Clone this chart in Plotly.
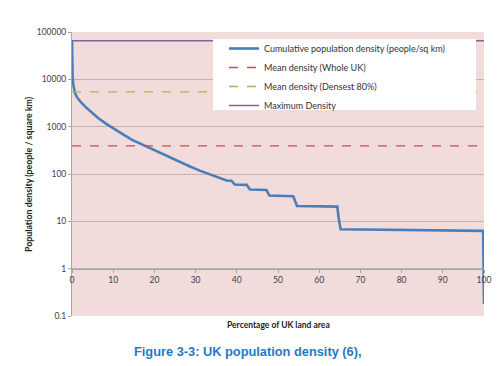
import plotly.graph_objects as go

# ---- data ----
land_pct = [0, 0.05, 0.15, 0.3, 0.5, 0.73, 1.2, 2, 3.2, 4.7, 6.4, 8.4, 10.5, 12.5, 14.6,
            17.8, 20, 22.7, 25.5, 28.5, 31, 33.4, 35.9, 37.5, 38.7, 39.5, 42.4, 43.2,
            47.2, 47.9, 53.7, 54.6, 64.4, 64.7, 65.2, 99.8, 100]
cum_density = [65000, 25000, 11000, 7800, 6200, 5100, 4200, 3400, 2650, 2000, 1510, 1130,
               855, 680, 527, 390, 320, 250, 195, 146, 118, 98, 83, 73, 72, 60, 59, 47,
               46, 35, 34, 21, 20.5, 12, 6.8, 6.3, 0.18]
x_range = [0, 100]
mean_whole_uk = 392
mean_densest_80 = 5450
max_density = 65000
y_ticks = [0.1, 1, 10, 100, 1000, 10000, 100000]
y_tick_labels = ["0.1", "1", "10", "100", "1000", "10000", "100000"]
x_ticks = [0, 10, 20, 30, 40, 50, 60, 70, 80, 90, 100]

FONT = "Lato"
TXT = "#404040"

fig = go.Figure()
fig.add_trace(go.Scatter(x=land_pct, y=cum_density, mode="lines",
                         name="Cumulative population density (people/sq km)",
                         line=dict(color="#4A7EBB", width=2.6)))
fig.add_trace(go.Scatter(x=x_range, y=[mean_whole_uk] * 2, mode="lines",
                         name="Mean density (Whole UK)",
                         line=dict(color="#C0504D", width=1.3, dash="dash")))
fig.add_trace(go.Scatter(x=x_range, y=[mean_densest_80] * 2, mode="lines",
                         name="Mean density (Densest 80%)",
                         line=dict(color="#9BBB59", width=1.3, dash="dash")))
fig.add_trace(go.Scatter(x=x_range, y=[max_density] * 2, mode="lines",
                         name="Maximum Density",
                         line=dict(color="#8064A2", width=1.5)))

# white legend box
fig.add_shape(type="rect", xref="paper", yref="paper",
              x0=(213 - 72) / 412, x1=(476 - 72) / 412,
              y0=(316 - 110) / 284, y1=(316 - 39) / 284,
              fillcolor="white", line=dict(width=0), layer="above")

# page body has an 8px margin: shrink figure and margins to keep plot area at 72..484 x 32..316
fig.update_layout(
    width=492, height=358,
    margin=dict(l=64, r=16, t=24, b=50, autoexpand=False),
    paper_bgcolor="white",
    plot_bgcolor="#F2DCDB",
    font=dict(family=FONT, size=8, color=TXT),
    showlegend=True,
    legend=dict(x=(224 - 72) / 412, y=(316 - 34) / 284, xanchor="left", yanchor="top",
                bgcolor="rgba(0,0,0,0)", font=dict(family=FONT, size=9, color="#333333"),
                itemwidth=30, tracegroupgap=0),
    xaxis=dict(range=x_range, tickvals=x_ticks, showgrid=False, zeroline=False,
               anchor="free", position=1 / 6, showline=True, linecolor="#a6a6a6",
               ticks="outside", ticklen=3, tickcolor="#a6a6a6", automargin=False,
               tickfont=dict(family=FONT, size=8.5, color=TXT)),
    yaxis=dict(type="log", range=[-1, 5], tickvals=y_ticks, ticktext=y_tick_labels,
               showgrid=True, gridcolor="#BFB3B3", gridwidth=1, zeroline=False,
               showline=True, linecolor="#a6a6a6", ticks="outside", ticklen=3,
               tickcolor="#a6a6a6", automargin=False,
               tickfont=dict(family=FONT, size=8.5, color=TXT)),
    annotations=[
        dict(text="<b>Percentage of UK land area</b>", xref="paper", yref="paper",
             x=(278 - 72) / 412, y=(316 - 325) / 284, xanchor="center", yanchor="middle",
             showarrow=False, font=dict(family=FONT, size=8.5, color="#222222")),
        dict(text="<b>Population density (people / square km)</b>", xref="paper", yref="paper",
             x=(28 - 72) / 412, y=(316 - 174) / 284, xanchor="center", yanchor="middle",
             textangle=-90, showarrow=False, font=dict(family=FONT, size=8.8, color="#222222")),
        dict(text="<b>Figure 3-3: UK population density (6),</b>", xref="paper", yref="paper",
             x=(248 - 72) / 412, y=(316 - 351) / 284, xanchor="center", yanchor="middle",
             showarrow=False, font=dict(family="Liberation Sans", size=12.8, color="#1F7AC4")),
    ],
)

fig.write_html("out.html")
